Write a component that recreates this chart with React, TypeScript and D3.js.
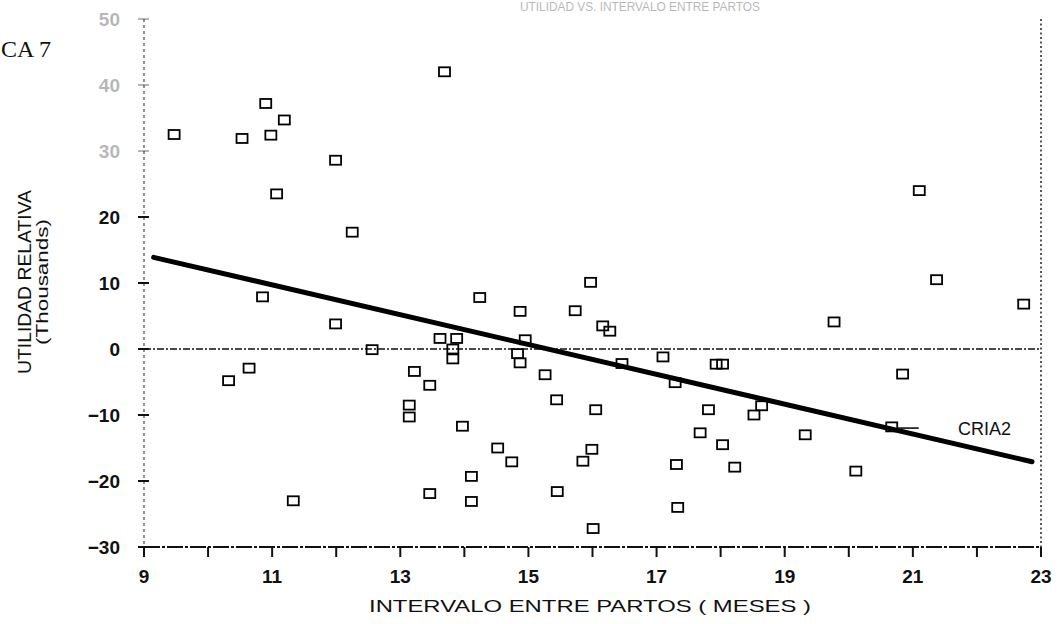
import React from "react";
import * as d3 from "d3";

// Calving interval (months) vs. relative profit (thousands)
const intervalMonths: number[] = [
  9.47, 10.9, 11.19, 10.53, 10.98, 11.99, 11.07, 12.25, 13.69, 15.97,
  21.1, 21.37, 10.85, 11.99, 12.56, 10.64, 10.32, 13.62, 13.88, 13.82,
  13.82, 13.22, 13.46, 13.14, 13.14, 11.33, 13.46, 14.24, 14.87, 15.73,
  16.16, 16.27, 14.95, 14.83, 14.87, 15.26, 16.46, 17.1, 17.29, 17.93,
  18.03, 15.44, 16.05, 13.97, 14.52, 14.74, 15.99, 15.85, 14.11, 14.11,
  15.45, 16.01, 17.81, 17.68, 18.03, 17.31, 18.22, 17.33, 22.73, 19.77,
  20.84, 18.64, 18.52, 19.32, 20.67, 20.11,
];
const relativeProfit: number[] = [
  32.5, 37.2, 34.7, 31.9, 32.4, 28.6, 23.5, 17.7, 42.0, 10.1,
  24.0, 10.5, 7.9, 3.8, -0.1, -2.9, -4.8, 1.6, 1.6, 0.0,
  -1.5, -3.4, -5.5, -8.5, -10.3, -23.0, -21.9, 7.8, 5.7, 5.8,
  3.5, 2.7, 1.4, -0.7, -2.1, -3.9, -2.2, -1.2, -5.1, -2.3,
  -2.3, -7.7, -9.2, -11.7, -15.0, -17.1, -15.2, -17.0, -19.3, -23.1,
  -21.6, -27.2, -9.2, -12.7, -14.5, -17.5, -17.9, -24.0, 6.8, 4.1,
  -3.8, -8.6, -10.0, -13.0, -11.8, -18.5,
];

// Fitted trend for the CRIA2 group
const trendIntercept = 34.56;
const trendSlope = -2.259;
const trendRange: number[] = [9.15, 22.86];

const xTicks: number[] = d3.range(9, 24, 1);
const xTickLabels: number[] = [9, 11, 13, 15, 17, 19, 21, 23];
const yTicks: number[] = [-30, -20, -10, 0, 10, 20, 30, 40, 50];
const yFadedLabels: number[] = [30, 40, 50];

const seriesName = "CRIA2";
const chartTitle = "UTILIDAD VS. INTERVALO ENTRE PARTOS";
const xTitle = "INTERVALO ENTRE PARTOS ( MESES )";
const yTitle = "UTILIDAD RELATIVA";
const yUnits = "(Thousands)";
const figureTag = "CA 7";

export default function App() {
  const x = d3.scaleLinear().domain([9, 23]).range([144, 1041]);
  const y = d3.scaleLinear().domain([-30, 50]).range([547, 19]);

  const trendLine = d3
    .line<number>()
    .x((d) => x(d))
    .y((d) => y(trendIntercept + trendSlope * d));

  const sans = "'Liberation Sans', Arial, sans-serif";
  const ink = "#111";

  // Leader from the series label back to the fitted line
  const leaderX = 20.67;
  const leaderY = trendIntercept + trendSlope * leaderX;

  return (
    <svg
      width={1058}
      height={624}
      style={{ position: "absolute", left: 0, top: 0, background: "#fff" }}
      fontFamily={sans}
    >
      <rect width={1058} height={624} fill="#fff" />

      {/* header */}
      <text x={1} y={57} fontFamily="'Liberation Serif', 'DejaVu Serif', serif" fontSize={24} fill={ink}>
        {figureTag}
      </text>
      <text x={640} y={11} textAnchor="middle" fontSize={13} fill={ink} opacity={0.3} textLength={240} lengthAdjust="spacingAndGlyphs">
        {chartTitle}
      </text>

      {/* frame */}
      <line x1={x(9)} x2={x(9)} y1={y(50)} y2={y(-30)} stroke={ink} strokeWidth={1.3} strokeDasharray="3 3" opacity={0.7} />
      <line x1={x(23)} x2={x(23)} y1={y(50)} y2={y(-30)} stroke={ink} strokeWidth={1.4} strokeDasharray="2 2.5" />
      <line x1={x(9)} x2={x(23)} y1={y(-30)} y2={y(-30)} stroke={ink} strokeWidth={1.8} strokeDasharray="16 2 3 2" />
      <line x1={x(9)} x2={x(23)} y1={y(0)} y2={y(0)} stroke={ink} strokeWidth={1.3} strokeDasharray="7 2 2 2" />

      {/* x ticks */}
      {xTicks.map((t) => (
        <line key={`xt${t}`} x1={x(t)} x2={x(t)} y1={y(-30)} y2={y(-30) + 10} stroke={ink} strokeWidth={2} />
      ))}
      {xTickLabels.map((t) => (
        <text key={`xl${t}`} x={x(t)} y={583} textAnchor="middle" fontSize={19} fontWeight="bold" fill={ink}>
          {t}
        </text>
      ))}

      {/* y ticks */}
      {yTicks.map((t) => {
        const faded = yFadedLabels.includes(t);
        return (
          <g key={`yt${t}`} opacity={faded ? 0.3 : 1}>
            <line x1={x(9) - 6} x2={x(9) + 5} y1={y(t)} y2={y(t)} stroke={ink} strokeWidth={2} />
            <text x={x(9) - 24} y={y(t) + 7} textAnchor="end" fontSize={19} fontWeight="bold" fill={ink}>
              {t < 0 ? `\u2212${Math.abs(t)}` : t}
            </text>
          </g>
        );
      })}

      {/* axis titles */}
      <text x={590} y={612} textAnchor="middle" fontSize={17} fill={ink} textLength={442} lengthAdjust="spacingAndGlyphs">
        {xTitle}
      </text>
      <g transform="translate(31,282) rotate(-90)">
        <text x={0} y={0} textAnchor="middle" fontSize={19} fill={ink} textLength={184} lengthAdjust="spacingAndGlyphs">
          {yTitle}
        </text>
        <text x={0} y={17} textAnchor="middle" fontSize={17} fill={ink} textLength={126} lengthAdjust="spacingAndGlyphs">
          {yUnits}
        </text>
      </g>

      {/* fitted trend */}
      <path d={trendLine(trendRange) ?? ""} fill="none" stroke="#000" strokeWidth={5} strokeLinecap="round" />

      {/* observations */}
      {intervalMonths.map((m, i) => (
        <rect
          key={`p${i}`}
          x={x(m) - 5.5}
          y={y(relativeProfit[i]) - 4.5}
          width={11}
          height={9}
          fill="none"
          stroke="#000"
          strokeWidth={1.8}
        />
      ))}

      {/* series label */}
      <line x1={x(leaderX) + 6} x2={x(leaderX) + 27} y1={y(leaderY) - 1} y2={y(leaderY) - 1} stroke={ink} strokeWidth={1.6} />
      <text x={958} y={y(leaderY) + 6} fontSize={18} fill={ink}>
        {seriesName}
      </text>
    </svg>
  );
}
